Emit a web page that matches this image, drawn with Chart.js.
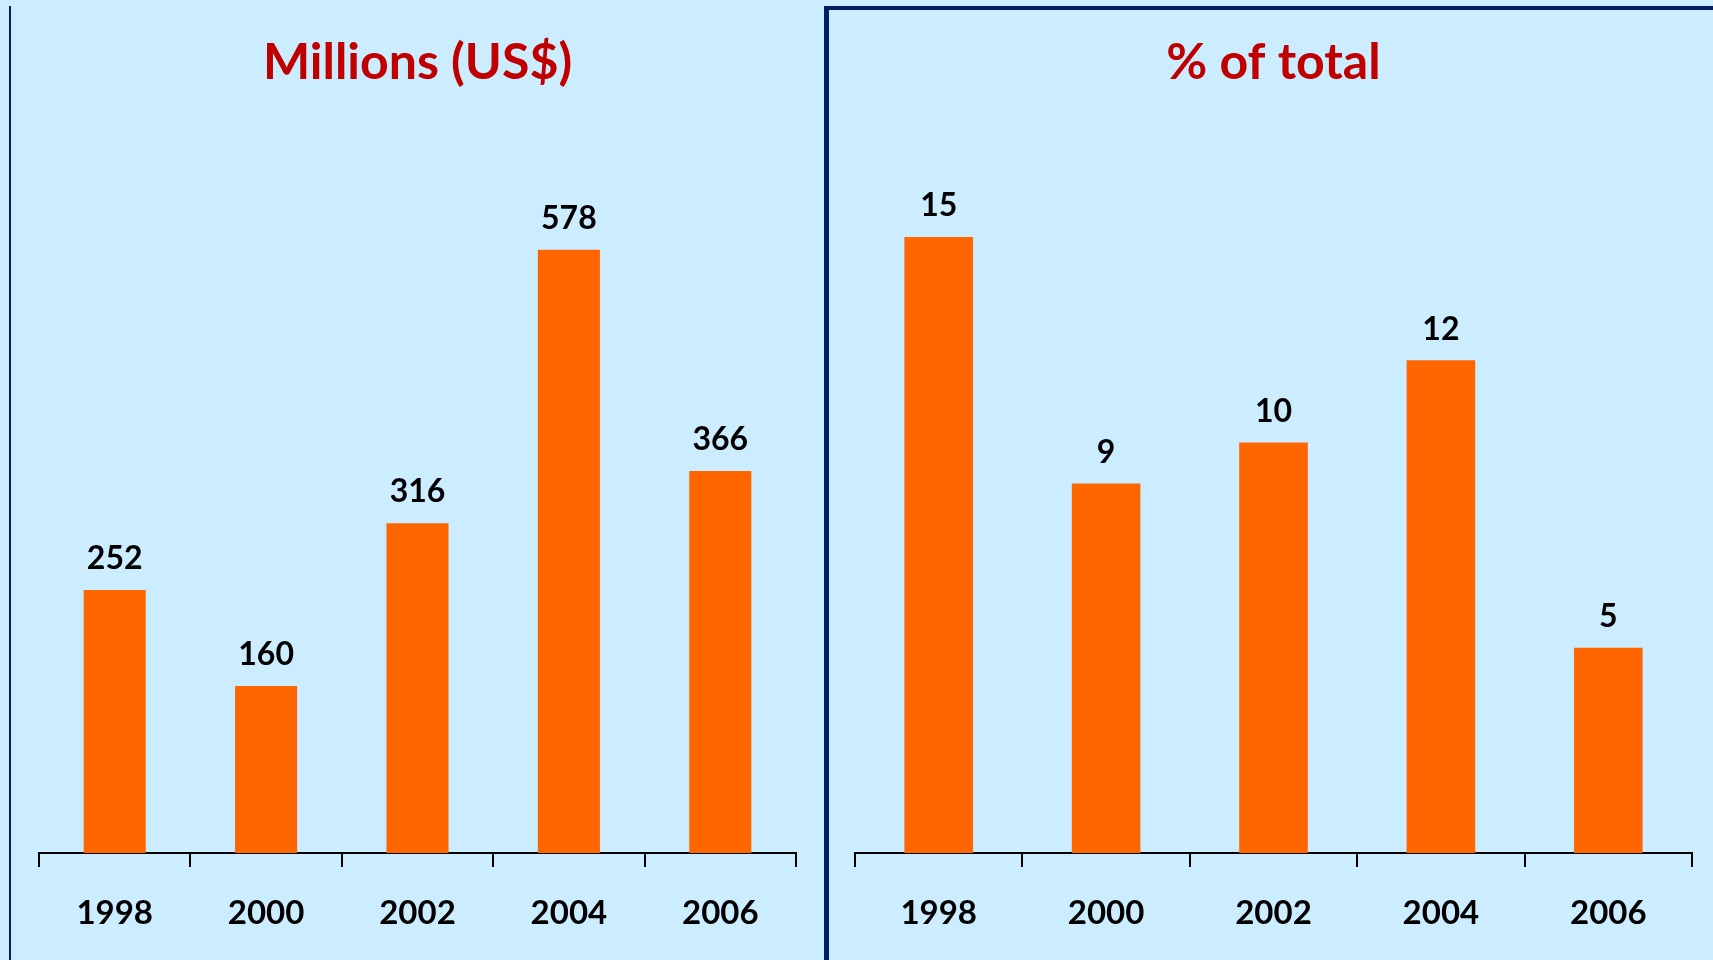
<!DOCTYPE html>
<html>
<head>
<meta charset="utf-8">
<script src="https://cdn.jsdelivr.net/npm/chart.js@4.4.1/dist/chart.umd.min.js"></script>
<style>
    body { margin: 0; background: #CCECFF; width: 1713px; height: 960px; overflow: hidden; position: relative; }
    .line-left { position: absolute; left: 9px; top: 6px; width: 2px; height: 954px; background: #002060; }
    .panel-right { position: absolute; left: 824px; top: 6px; width: 900px; height: 960px; border-left: 5px solid #002060; border-top: 4px solid #002060; box-sizing: border-box; }
    #leftWrap { position: absolute; left: 0; top: 0; width: 830px; height: 960px; }
    #rightWrap { position: absolute; left: 830px; top: 0; width: 883px; height: 960px; }
</style>
</head>
<body>
<div class="line-left"></div>
<div class="panel-right"></div>
<div id="leftWrap"><canvas id="leftChart"></canvas></div>
<div id="rightWrap"><canvas id="rightChart"></canvas></div>
<script>
const years = ['1998', '2000', '2002', '2004', '2006'];
const millionsUSD = [252, 160, 316, 578, 366];
const percentOfTotal = [15, 9, 10, 12, 5];

const FONT = 'Lato, "Open Sans", sans-serif';

// Draw the value above each bar
const valueLabels = {
    id: 'valueLabels',
    afterDatasetsDraw(chart) {
        const ctx = chart.ctx;
        const meta = chart.getDatasetMeta(0);
        ctx.save();
        ctx.font = 'bold 32px ' + FONT;
        ctx.fillStyle = '#000000';
        ctx.textAlign = 'center';
        ctx.textBaseline = 'middle';
        meta.data.forEach((bar, i) => {
            ctx.fillText(chart.data.datasets[0].data[i], bar.x, bar.y - 31);
        });
        ctx.restore();
    }
};

function makeChart(id, title, values, yMax, barPct, padLeft, padRight) {
    return new Chart(document.getElementById(id), {
        type: 'bar',
        data: {
            labels: years,
            datasets: [{
                data: values,
                backgroundColor: '#FF6600',
                barPercentage: barPct,
                categoryPercentage: 1
            }]
        },
        options: {
            responsive: true,
            maintainAspectRatio: false,
            animation: false,
            layout: { padding: { left: padLeft, right: padRight, top: 0, bottom: 0 } },
            plugins: {
                legend: { display: false },
                tooltip: { enabled: false },
                title: {
                    display: true,
                    text: title,
                    color: '#C00000',
                    font: { family: FONT, size: 50, weight: 'bold', lineHeight: 1.2 },
                    padding: { top: 33, bottom: 94 }
                }
            },
            scales: {
                x: {
                    grid: { display: true, drawOnChartArea: false, drawTicks: true, tickLength: 14, color: '#000000', lineWidth: 2, offset: true },
                    border: { display: true, color: '#000000', width: 2 },
                    ticks: { color: '#000000', font: { family: FONT, size: 33, weight: 'bold', lineHeight: 1.0 }, padding: 30 }
                },
                y: {
                    display: false,
                    min: 0,
                    max: yMax
                }
            }
        },
        plugins: [valueLabels]
    });
}

makeChart('leftChart', 'Millions (US$)', millionsUSD, 638, 0.41, 39, 34);
makeChart('rightChart', '% of total', percentOfTotal, 16.22, 0.41, 25, 21);
</script>
</body>
</html>
